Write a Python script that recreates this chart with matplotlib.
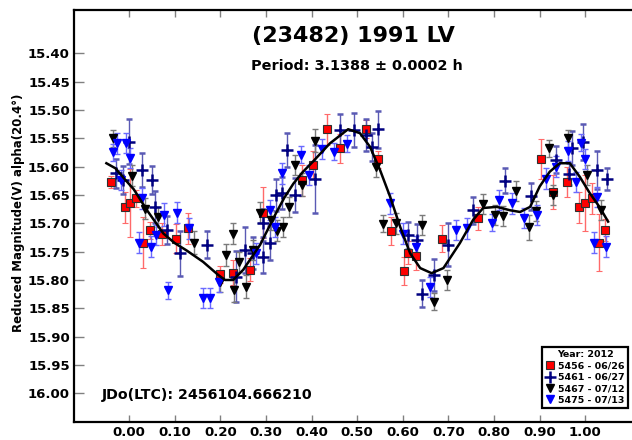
import numpy as np
import matplotlib
matplotlib.use("Agg")
import matplotlib.pyplot as plt
from matplotlib.lines import Line2D

plt.rcParams['font.family'] = 'DejaVu Sans'
plt.rcParams['font.weight'] = 'bold'

# 5456 - 06/26 (red squares)
ph_5456 = [-0.039, -0.009, 0.002, 0.016, 0.031, 0.045, 0.073, 0.102, 0.129, 0.199, 0.228, 0.265, 0.294,
           0.433, 0.462, 0.519, 0.546, 0.404, 0.378, 0.574, 0.602, 0.612, 0.629, 0.686, 0.765,
           0.902, 0.930, 0.959, 0.987, 0.999, 1.014, 1.029, 1.043]
mag_5456 = [15.627, 15.672, 15.664, 15.656, 15.734, 15.712, 15.719, 15.727, 15.709, 15.790, 15.787, 15.782, 15.681,
            15.534, 15.568, 15.534, 15.587, 15.597, 15.624, 15.713, 15.784, 15.752, 15.758, 15.727, 15.691,
            15.587, 15.644, 15.627, 15.672, 15.664, 15.656, 15.734, 15.712]
err_5456 = [0.010, 0.027, 0.060, 0.015, 0.045, 0.015, 0.020, 0.025, 0.027, 0.015, 0.022, 0.020, 0.045,
            0.027, 0.025, 0.016, 0.015, 0.025, 0.027, 0.025, 0.025, 0.020, 0.024, 0.024, 0.020,
            0.035, 0.030, 0.027, 0.027, 0.050, 0.027, 0.050, 0.020]

# 5461 - 06/27 (navy plus)
ph_5461 = [0.000, -0.028, -0.013, 0.027, 0.049, 0.056, 0.082, 0.111, 0.170, 0.235, 0.254, 0.272, 0.294,
           0.309, 0.321, 0.334, 0.347, 0.294,
           0.363, 0.407, 0.462, 0.493, 0.519, 0.546, 0.532, 0.612, 0.632, 0.668, 0.641, 0.700, 0.753,
           0.824, 0.880, 0.936, 0.970, 0.996, 1.025, 1.048, 0.965]
mag_5461 = [15.556, 15.612, 15.624, 15.606, 15.624, 15.671, 15.712, 15.753, 15.738, 15.794, 15.747, 15.753, 15.759,
            15.735, 15.650, 15.647, 15.571, 15.700,
            15.650, 15.621, 15.536, 15.536, 15.544, 15.534, 15.565, 15.721, 15.729, 15.791, 15.824, 15.738, 15.677,
            15.625, 15.652, 15.588, 15.568, 15.556, 15.606, 15.622, 15.613]
err_5461 = [0.040, 0.025, 0.025, 0.030, 0.025, 0.028, 0.025, 0.040, 0.024, 0.045, 0.040, 0.028, 0.028,
            0.030, 0.028, 0.028, 0.030, 0.025,
            0.030, 0.060, 0.028, 0.030, 0.028, 0.033, 0.025, 0.024, 0.028, 0.028, 0.024, 0.038, 0.024,
            0.022, 0.024, 0.024, 0.030, 0.032, 0.034, 0.020, 0.020]

# 5467 - 07/12 (black triangles)
ph_5467 = [-0.036, 0.007, 0.034, 0.064, 0.143, 0.212, 0.227, 0.199, 0.230, 0.241, 0.257, 0.272, 0.287,
           0.312, 0.325, 0.338, 0.351,
           0.407, 0.363, 0.378, 0.557, 0.586, 0.641, 0.696, 0.668, 0.542,
           0.775, 0.802, 0.820, 0.848, 0.877, 0.893, 0.920, 0.930, 0.963, 1.004, 1.034]
mag_5467 = [15.550, 15.616, 15.674, 15.689, 15.734, 15.756, 15.718, 15.803, 15.818, 15.768, 15.812, 15.747, 15.681,
            15.694, 15.713, 15.706, 15.671,
            15.554, 15.597, 15.632, 15.701, 15.700, 15.703, 15.800, 15.838, 15.600,
            15.666, 15.685, 15.687, 15.643, 15.707, 15.678, 15.568, 15.650, 15.550, 15.615, 15.677]
err_5467 = [0.015, 0.018, 0.018, 0.018, 0.020, 0.020, 0.018, 0.018, 0.020, 0.018, 0.020, 0.018, 0.018,
            0.018, 0.018, 0.018, 0.018,
            0.020, 0.018, 0.020, 0.015, 0.018, 0.018, 0.018, 0.015, 0.018,
            0.018, 0.018, 0.018, 0.018, 0.022, 0.018, 0.015, 0.018, 0.015, 0.018, 0.018]

# 5475 - 07/13 (blue triangles)
ph_5475 = [-0.026, -0.036, -0.007, 0.002, -0.019, 0.022, 0.048, 0.029, 0.059, 0.076, 0.104, 0.131, 0.086,
           0.161, 0.178, 0.197, 0.279, 0.309, 0.336, 0.320,
           0.376, 0.422, 0.449, 0.477, 0.395, 0.572, 0.601, 0.629, 0.659, 0.716, 0.740,
           0.795, 0.811, 0.839, 0.866, 0.895, 0.914, 0.936, 0.963, 0.990, 0.999, 0.980, 1.018, 1.026, 1.045]
mag_5475 = [15.559, 15.575, 15.558, 15.585, 15.624, 15.734, 15.741, 15.656, 15.721, 15.685, 15.681, 15.709, 15.818,
            15.832, 15.832, 15.803, 15.753, 15.677, 15.612, 15.706,
            15.579, 15.569, 15.574, 15.560, 15.615, 15.665, 15.718, 15.741, 15.812, 15.712, 15.709,
            15.699, 15.659, 15.665, 15.691, 15.685, 15.621, 15.600, 15.572, 15.558, 15.587, 15.627, 15.734, 15.654, 15.741]
err_5475 = [0.018, 0.015, 0.018, 0.018, 0.018, 0.018, 0.018, 0.018, 0.018, 0.020, 0.018, 0.018, 0.015,
            0.018, 0.018, 0.018, 0.018, 0.018, 0.018, 0.018,
            0.015, 0.018, 0.015, 0.015, 0.018, 0.018, 0.018, 0.018, 0.018, 0.018, 0.018,
            0.015, 0.018, 0.018, 0.018, 0.018, 0.018, 0.018, 0.018, 0.015, 0.018, 0.018, 0.018, 0.018, 0.018]

# Fourier fit curve
ph_fit = [-0.05, -0.03, -0.01, 0.01, 0.04, 0.075, 0.10, 0.126, 0.162, 0.195, 0.21, 0.228, 0.25, 0.287,
          0.32, 0.34, 0.36, 0.38, 0.403, 0.44, 0.48, 0.506, 0.528, 0.55, 0.572, 0.594, 0.616, 0.638,
          0.663, 0.689, 0.725, 0.754, 0.776, 0.806, 0.835, 0.857, 0.879, 0.90, 0.922, 0.944, 0.966,
          0.988, 1.01, 1.031, 1.05]
mag_fit = [15.594, 15.603, 15.622, 15.640, 15.678, 15.718, 15.735, 15.748, 15.768, 15.791, 15.800, 15.800,
           15.782, 15.738, 15.685, 15.655, 15.630, 15.610, 15.591, 15.559, 15.534, 15.541, 15.565, 15.606,
           15.653, 15.706, 15.753, 15.779, 15.788, 15.779, 15.735, 15.694, 15.673, 15.671, 15.677, 15.680,
           15.671, 15.635, 15.609, 15.594, 15.594, 15.618, 15.647, 15.671, 15.697]

yticks = np.arange(15.40, 16.001, 0.05)
xticks = np.arange(0.0, 1.001, 0.1)

fig = plt.figure(figsize=(6.32, 4.40), dpi=100)
ax = fig.add_axes([74 / 632, 18.3 / 440, 558 / 632, 411.7 / 440])

ax.errorbar(ph_5456, mag_5456, yerr=err_5456, fmt='s', ms=6, mfc='#ff0000', mec='#303030', mew=0.8,
            ecolor='#ff6a6a', elinewidth=1, capsize=2.5, zorder=3)
ax.errorbar(ph_5461, mag_5461, yerr=err_5461, fmt='+', ms=9, color='#000080', mew=1.8,
            ecolor='#5a5ab4', elinewidth=1, capsize=2.5, zorder=3)
ax.errorbar(ph_5467, mag_5467, yerr=err_5467, fmt='v', ms=6, color='#000000',
            ecolor='#7a7a7a', elinewidth=1, capsize=2.5, zorder=3)
ax.errorbar(ph_5475, mag_5475, yerr=err_5475, fmt='v', ms=6, color='#0000ff',
            ecolor='#6a6aff', elinewidth=1, capsize=2.5, zorder=3)
ax.plot(ph_fit, mag_fit, color='black', lw=1.8, zorder=4)

ax.set_xlim(-0.121, 1.1024)
ax.set_ylim(16.0501, 15.3236)
ax.set_yticks(yticks)
ax.set_yticklabels(['%.2f' % v for v in yticks])
ax.set_xticks(xticks)
ax.set_xticklabels(['%.2f' % v for v in xticks])
ax.tick_params(axis='both', direction='in', color='#808080', width=1, labelsize=9.5, pad=3)
ax.tick_params(axis='y', length=7)
ax.tick_params(axis='x', length=5, top=True)
for lab in ax.get_xticklabels() + ax.get_yticklabels():
    lab.set_fontweight('bold')
for s in ['left', 'bottom', 'top']:
    ax.spines[s].set_linewidth(1.6)
ax.spines['right'].set_visible(False)

fig.text(74 / 632 * 0.25, 0.516, 'Reduced Magnitude(V) alpha(20.4°)', rotation=90,
         ha='center', va='center', fontsize=8.5, fontweight='bold')
fig.text(0.559, 0.918, '(23482) 1991 LV', ha='center', va='center', fontsize=16, fontweight='bold')
fig.text(0.565, 0.850, 'Period: 3.1388 ± 0.0002 h', ha='center', va='center', fontsize=10.4, fontweight='bold')
fig.text(102 / 632, 1 - 395 / 440, 'JDo(LTC): 2456104.666210', ha='left', va='center',
         fontsize=10.2, fontweight='bold')

handles = [
    Line2D([], [], ls='none', marker='s', ms=6, mfc='#ff0000', mec='#303030', mew=0.8),
    Line2D([], [], ls='none', marker='+', ms=8, color='#000080', mew=1.8),
    Line2D([], [], ls='none', marker='v', ms=6, color='#000000'),
    Line2D([], [], ls='none', marker='v', ms=6, color='#0000ff'),
]
labels = ['5456 - 06/26', '5461 - 06/27', '5467 - 07/12', '5475 - 07/13']
leg = ax.legend(handles, labels, title='Year: 2012', loc='lower right',
                bbox_to_anchor=((628 - 74) / 558, (421.7 - 408) / 411.7), borderaxespad=0,
                prop={'size': 6.8, 'weight': 'bold'}, title_fontproperties={'size': 6.8, 'weight': 'bold'},
                fancybox=False, framealpha=1, edgecolor='black', handlelength=0.8, handletextpad=0.5,
                labelspacing=0.25, borderpad=0.35)
leg.get_frame().set_linewidth(1.6)

fig.savefig('out.png', dpi=100)
